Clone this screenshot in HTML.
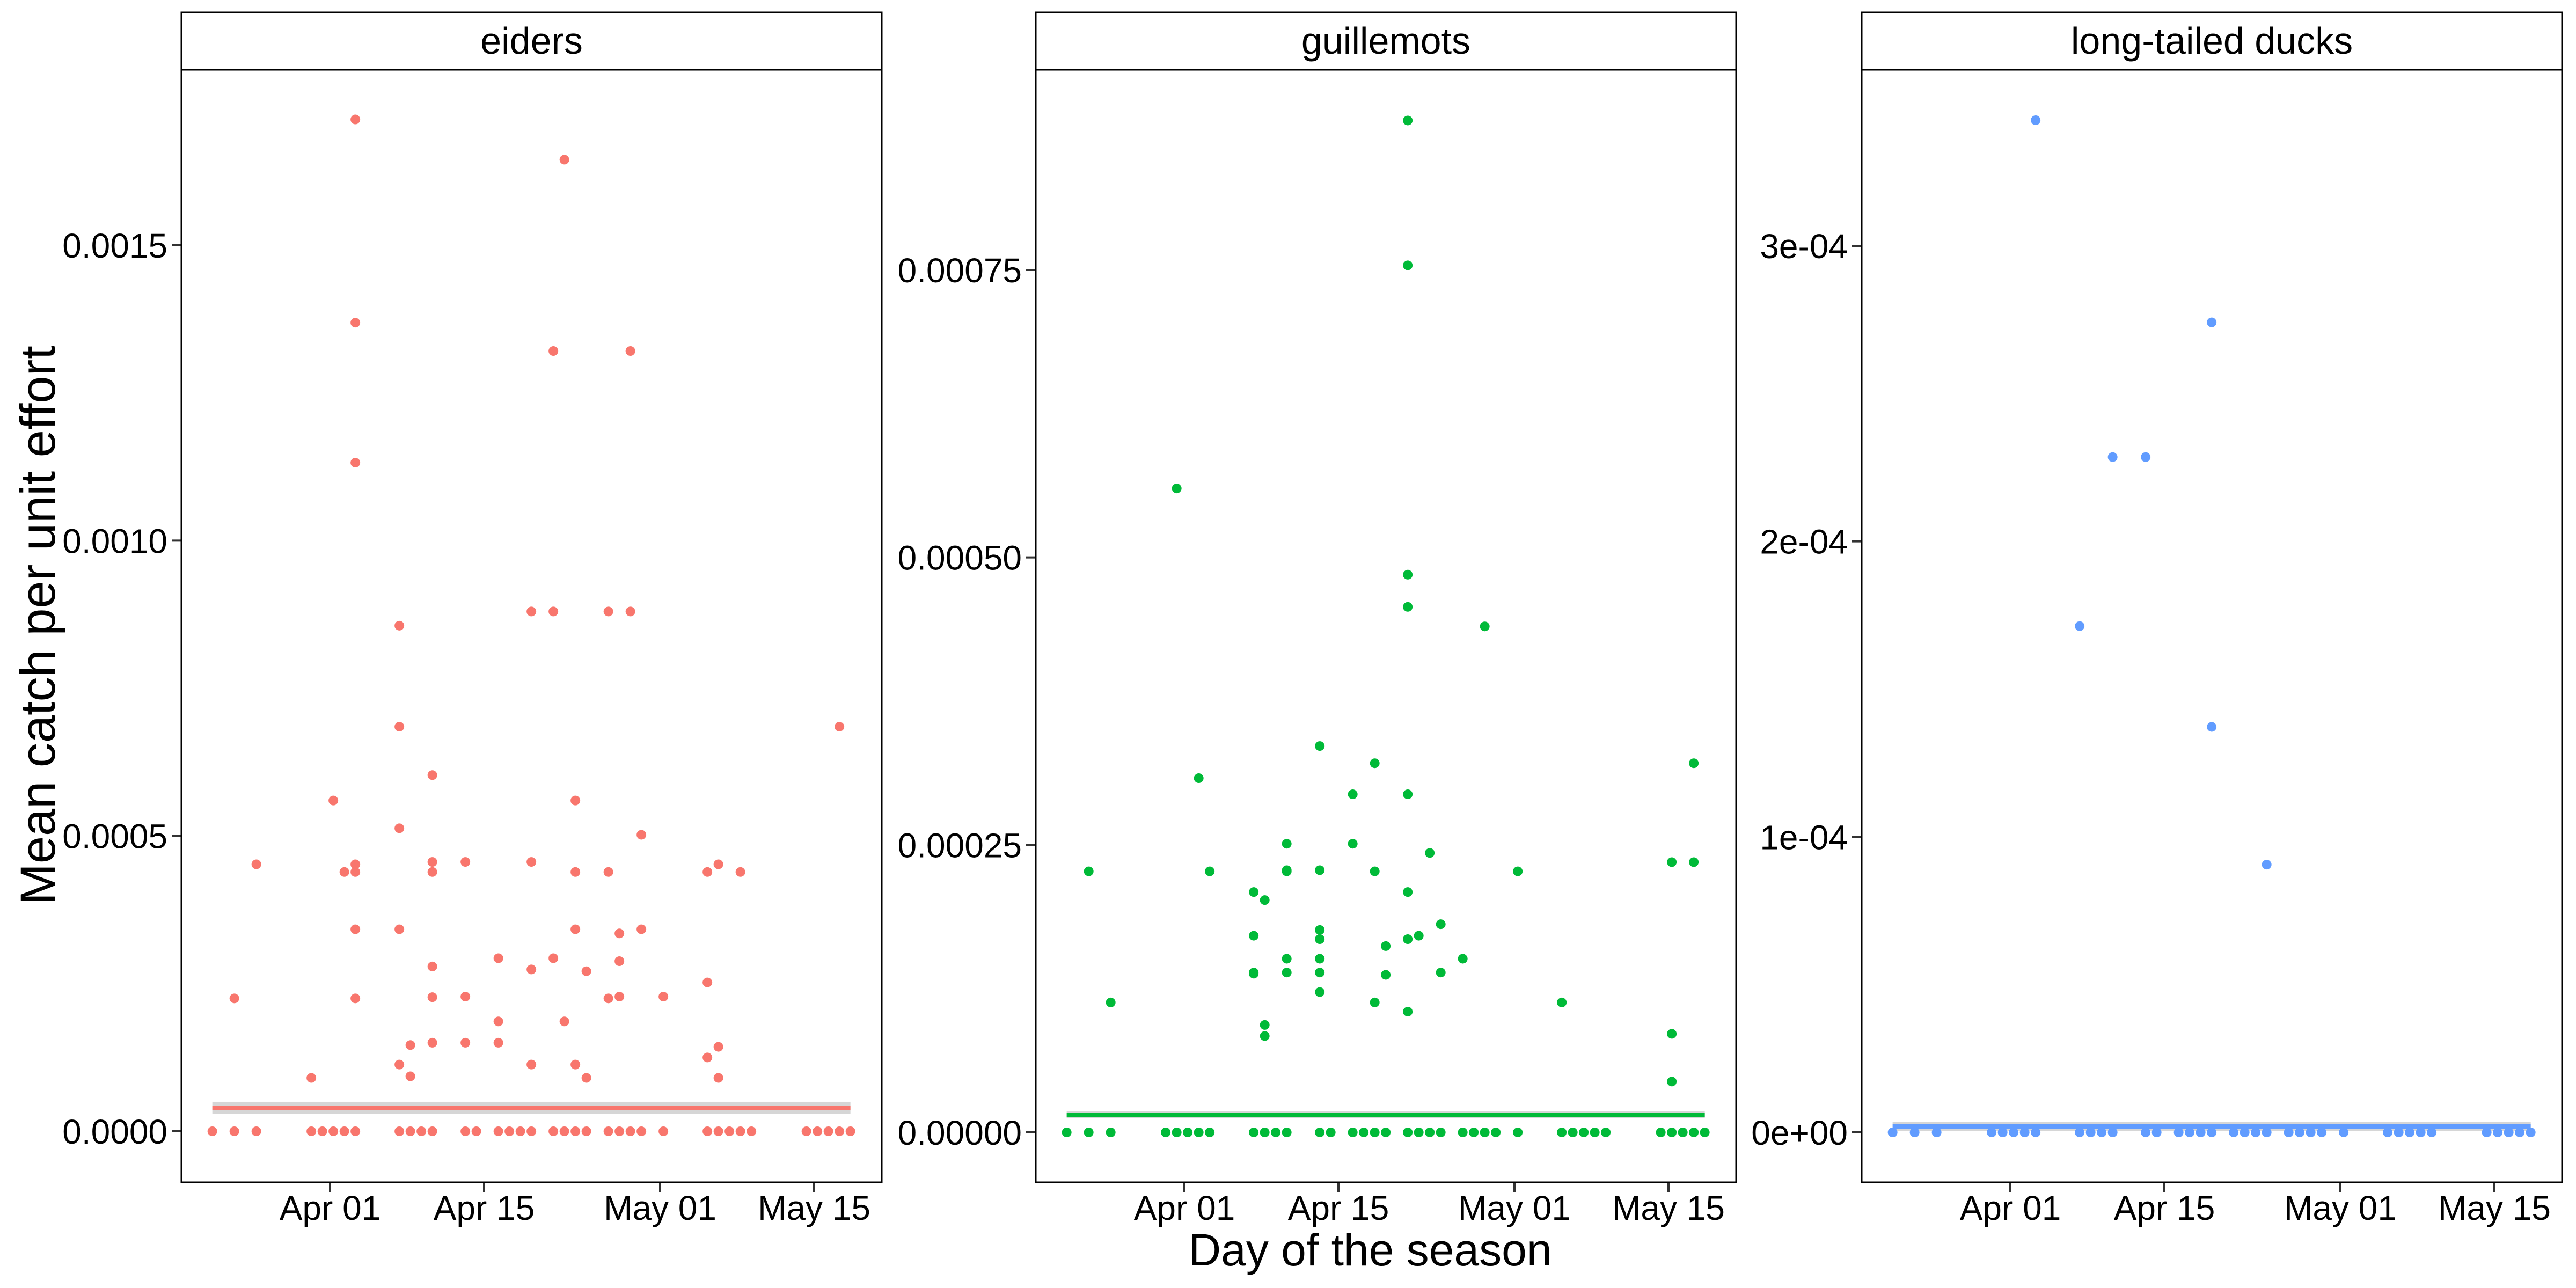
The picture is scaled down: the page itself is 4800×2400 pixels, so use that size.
<!DOCTYPE html>
<html><head><meta charset="utf-8"><style>
html,body{margin:0;padding:0;background:#fff;}
svg{display:block;}
text{font-family:"Liberation Sans",sans-serif;fill:#000;}
</style></head><body>
<svg id="chart" width="4800" height="2400" viewBox="0 0 4800 2400" xmlns="http://www.w3.org/2000/svg">
<rect width="4800" height="2400" fill="#fff"/>
<text x="0" y="0" transform="translate(102,1165) rotate(-90)" text-anchor="middle" font-size="92">Mean catch per unit effort</text>
<text x="2553" y="2358" text-anchor="middle" font-size="84">Day of the season</text>
</svg>
<script>
// days are relative to Apr 01 (day 0)
const zeroDays = [-11,-9,-7,-2,-1,0,1,2,6,7,8,9,12,13,15,16,17,18,20,21,22,23,25,26,27,28,30,34,35,36,37,38,43,44,45,46,47];
const xTickDays = [0,14,30,44];
const xTickLabels = ["Apr 01","Apr 15","May 01","May 15"];

const eiderDays = [-9,-7,-2,0,1,2,2,2,2,2,2,2,6,6,6,6,6,7,7,9,9,9,9,9,9,12,12,12,15,15,15,18,18,18,18,20,20,20,21,21,22,22,22,22,23,23,25,25,25,26,26,26,27,27,28,28,30,34,34,34,35,35,35,37,46];
const eiderValues = [0.000225,0.000452,0.0000904,0.00056,0.000439,0.001713,0.001369,0.001132,0.000452,0.000439,0.000342,0.000225,0.000856,0.000685,0.000513,0.000342,0.000113,0.000146,0.0000931,0.000603,0.000456,0.000439,0.000279,0.000227,0.00015,0.000456,0.000228,0.00015,0.000293,0.000186,0.00015,0.00088,0.000456,0.000274,0.000113,0.001321,0.00088,0.000293,0.001645,0.000186,0.00056,0.000439,0.000342,0.000113,0.000271,0.0000904,0.00088,0.000439,0.000225,0.000335,0.000288,0.000228,0.001321,0.00088,0.000502,0.000342,0.000228,0.000439,0.000252,0.000125,0.000452,0.000143,0.0000904,0.000439,0.000685];
const eiderTicks = [0,0.0005,0.001,0.0015];
const eiderTickLabels = ["0.0000","0.0005","0.0010","0.0015"];
const eiderFit = [0.000040,0.00001];

const guilDays = [-9,-7,-1,1,2,6,6,6,6,7,7,7,9,9,9,9,9,12,12,12,12,12,12,12,15,15,17,17,17,18,18,20,20,20,20,20,20,20,20,21,22,23,23,25,27,30,34,44,44,44,46,46];
const guilValues = [0.000227,0.000113,0.00056,0.000308,0.000227,0.000209,0.000171,0.000139,0.000138,0.000202,0.0000934,0.0000838,0.000251,0.000228,0.000227,0.000151,0.000139,0.000336,0.000228,0.000176,0.000168,0.000151,0.000139,0.000122,0.000294,0.000251,0.000321,0.000227,0.000113,0.000162,0.000137,0.00088,0.000754,0.000485,0.000457,0.000294,0.000209,0.000168,0.000105,0.000171,0.000243,0.000181,0.000139,0.000151,0.00044,0.000227,0.000113,0.000235,0.0000857,0.0000442,0.000321,0.000235];
const guilTicks = [0,0.00025,0.0005,0.00075];
const guilTickLabels = ["0.00000","0.00025","0.00050","0.00075"];
const guilFit = [0.0000154,0.000003];

const ltdDays = [2,6,9,12,18,18,23];
const ltdValues = [0.0003425,0.0001713,0.0002285,0.0002285,0.0002741,0.0001372,0.0000906];
const ltdTicks = [0,0.0001,0.0002,0.0003];
const ltdTickLabels = ["0e+00","1e-04","2e-04","3e-04"];
const ltdFit = [0.000002,0.0000015];

const NS = "http://www.w3.org/2000/svg";
const svg = document.getElementById('chart');
function mk(tag, attrs, parent){
  const e = document.createElementNS(NS, tag);
  for (const k in attrs) e.setAttribute(k, attrs[k]);
  (parent||svg).appendChild(e);
  return e;
}
const panels = [
  {name:"eiders", key:"eiders", left:338, color:"#F8766D", days:eiderDays, vals:eiderValues, ticks:eiderTicks, labels:eiderTickLabels, fit:eiderFit, y0:2108, yTop:457, vTop:0.0015},
  {name:"guillemots", key:"guillemots", left:1930, color:"#00BA38", days:guilDays, vals:guilValues, ticks:guilTicks, labels:guilTickLabels, fit:guilFit, y0:2110, yTop:503, vTop:0.00075},
  {name:"long-tailed ducks", key:"long-tailed-ducks", left:3469, color:"#619CFF", days:ltdDays, vals:ltdValues, ticks:ltdTicks, labels:ltdTickLabels, fit:ltdFit, y0:2110, yTop:458, vTop:0.0003}
];
const W = 1305, stripTop = 23, stripBot = 130, plotBot = 2203, pxDay = 20.5, aprOff = 277, ptOff = 0.3;
panels.forEach(p => {
  const g = mk('g', {});
  
  
  const xS = d => p.left + aprOff + d * pxDay;
  const yS = v => p.y0 - (v / p.vTop) * (p.y0 - p.yTop);
  const strip = mk('rect', {x:p.left, y:stripTop, width:W, height:stripBot-stripTop, fill:'#fff', stroke:'#000', 'stroke-width':3}, g);
  
  
  const st = mk('text', {x:p.left+W/2, y:100, 'text-anchor':'middle', 'font-size':70}, g);
  st.textContent = p.name;
  
  
  p.ticks.forEach((t,i) => {
    const y = yS(t);
    const tk = mk('line', {x1:p.left-18, x2:p.left, y1:y, y2:y, stroke:'#333', 'stroke-width':4}, g);
    
    
    const tl = mk('text', {x:p.left-26, y:y+23, 'text-anchor':'end', 'font-size':64}, g);
    tl.textContent = p.labels[i];
    
    
  });
  xTickDays.forEach((d,i) => {
    const x = xS(d);
    const tk = mk('line', {x1:x, x2:x, y1:plotBot, y2:plotBot+18, stroke:'#333', 'stroke-width':4}, g);
    
    
    const tl = mk('text', {x:x, y:2273, 'text-anchor':'middle', 'font-size':64}, g);
    tl.textContent = xTickLabels[i];
    
    
  });
  const x1 = xS(Math.min(...zeroDays) + ptOff), x2 = xS(Math.max(...zeroDays) + ptOff);
  const yb1 = yS(p.fit[0] + p.fit[1]), yb2 = yS(p.fit[0] - p.fit[1]);
  const band = mk('rect', {x:x1, y:yb1, width:x2-x1, height:Math.max(yb2-yb1, 10), fill:'#999', 'fill-opacity':0.4}, g);
  
  
  const fl = mk('line', {x1:x1, x2:x2, y1:yS(p.fit[0]), y2:yS(p.fit[0]), stroke:p.color, 'stroke-width':8}, g);
  
  
  const allD = zeroDays.concat(p.days), allV = zeroDays.map(()=>0).concat(p.vals);
  allD.forEach((d,i) => {
    const c = mk('circle', {cx:xS(d+ptOff), cy:yS(allV[i]), r:9, fill:p.color}, g);
    
    
  });
  const b = mk('rect', {x:p.left, y:stripBot, width:W, height:plotBot-stripBot, fill:'none', stroke:'#000', 'stroke-width':3}, g);
  
  
});
</script>
</body></html>
